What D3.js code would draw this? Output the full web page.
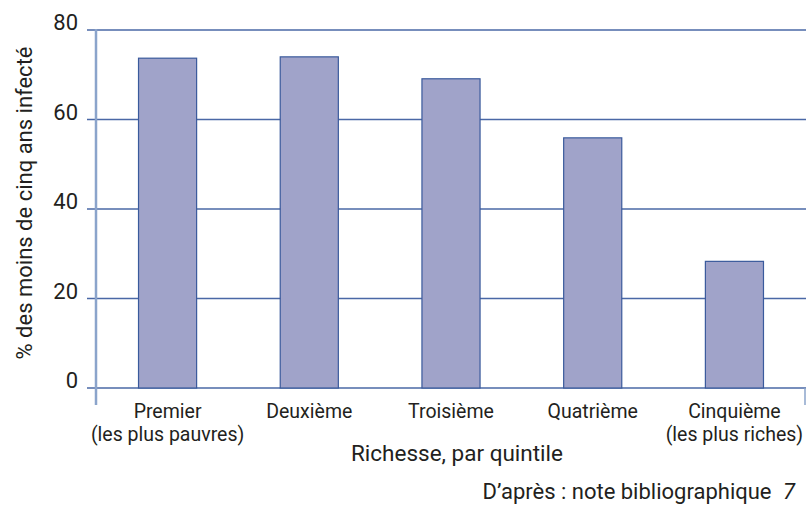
<!DOCTYPE html>
<html>
<head>
<meta charset="utf-8">
<script src="https://cdn.jsdelivr.net/npm/d3@7"></script>
<style>
  body { margin: 0; background: #fff; }
  text { font-family: "Roboto", sans-serif; fill: #231f20; }
</style>
</head>
<body>
<div id="chart"></div>
<script>
// Données
const categories = ["Premier", "Deuxième", "Troisième", "Quatrième", "Cinquième"];
const sousTitres = ["(les plus pauvres)", "", "", "", "(les plus riches)"];
const valeurs = [73.7, 74.0, 69.1, 55.9, 28.3];
const graduations = [0, 20, 40, 60, 80];

const width = 806, height = 509;
const margin = { top: 30, right: 0, bottom: 121, left: 96 };

const svg = d3.select("#chart").append("svg")
    .attr("width", width)
    .attr("height", height);

// Échelles
const x = d3.scaleBand()
    .domain(categories)
    .range([margin.left, width - margin.right])
    .paddingInner(0.59)
    .paddingOuter(0.3);

const y = d3.scaleLinear()
    .domain([0, 80])
    .range([height - margin.bottom, margin.top]);

// Lignes horizontales de la grille
svg.append("g")
    .selectAll("line")
    .data(graduations)
    .join("line")
    .attr("x1", 87)
    .attr("x2", width)
    .attr("y1", d => y(d))
    .attr("y2", d => y(d))
    .attr("stroke", "#4a68a6")
    .attr("stroke-width", 1.5);

// Axe vertical
svg.append("line")
    .attr("x1", margin.left).attr("x2", margin.left)
    .attr("y1", y(80) - 1).attr("y2", y(0) + 17)
    .attr("stroke", "#8ba4cb")
    .attr("stroke-width", 2.5);

// Petit trait à droite
svg.append("line")
    .attr("x1", width - 1).attr("x2", width - 1)
    .attr("y1", y(0)).attr("y2", y(0) + 17)
    .attr("stroke", "#8ba4cb")
    .attr("stroke-width", 1.5);

// Étiquettes de l'axe vertical
svg.append("g")
    .selectAll("text")
    .data(graduations)
    .join("text")
    .attr("x", 78)
    .attr("y", d => y(d))
    .attr("text-anchor", "end")
    .style("font-size", "22px")
    .text(d => d);

// Barres
svg.append("g")
    .selectAll("rect")
    .data(valeurs)
    .join("rect")
    .attr("x", (d, i) => x(categories[i]))
    .attr("y", d => y(d))
    .attr("width", x.bandwidth())
    .attr("height", d => y(0) - y(d))
    .attr("fill", "#a0a3c9")
    .attr("stroke", "#3a5a9c")
    .attr("stroke-width", 1.2);

// Étiquettes des catégories
const etiquettes = svg.append("g")
    .selectAll("text")
    .data(categories)
    .join("text")
    .attr("text-anchor", "middle")
    .style("font-size", "19.5px");

etiquettes.append("tspan")
    .attr("x", d => x(d) + x.bandwidth() / 2)
    .attr("y", 418)
    .text(d => d);

etiquettes.append("tspan")
    .attr("x", d => x(d) + x.bandwidth() / 2)
    .attr("y", 441)
    .text((d, i) => sousTitres[i]);

// Titre de l'axe horizontal
svg.append("text")
    .attr("x", 457)
    .attr("y", 461)
    .attr("text-anchor", "middle")
    .style("font-size", "22.5px")
    .text("Richesse, par quintile");

// Titre de l'axe vertical
svg.append("text")
    .attr("transform", "translate(32,203) rotate(-90)")
    .attr("text-anchor", "middle")
    .style("font-size", "22px")
    .text("% des moins de cinq ans infecté");

// Source
const source = svg.append("text")
    .attr("x", 795)
    .attr("y", 499)
    .attr("text-anchor", "end")
    .style("font-size", "22px");
source.append("tspan").text("D’après : note bibliographique ");
source.append("tspan").attr("dx", 6).style("font-style", "italic").text("7");
</script>
</body>
</html>
